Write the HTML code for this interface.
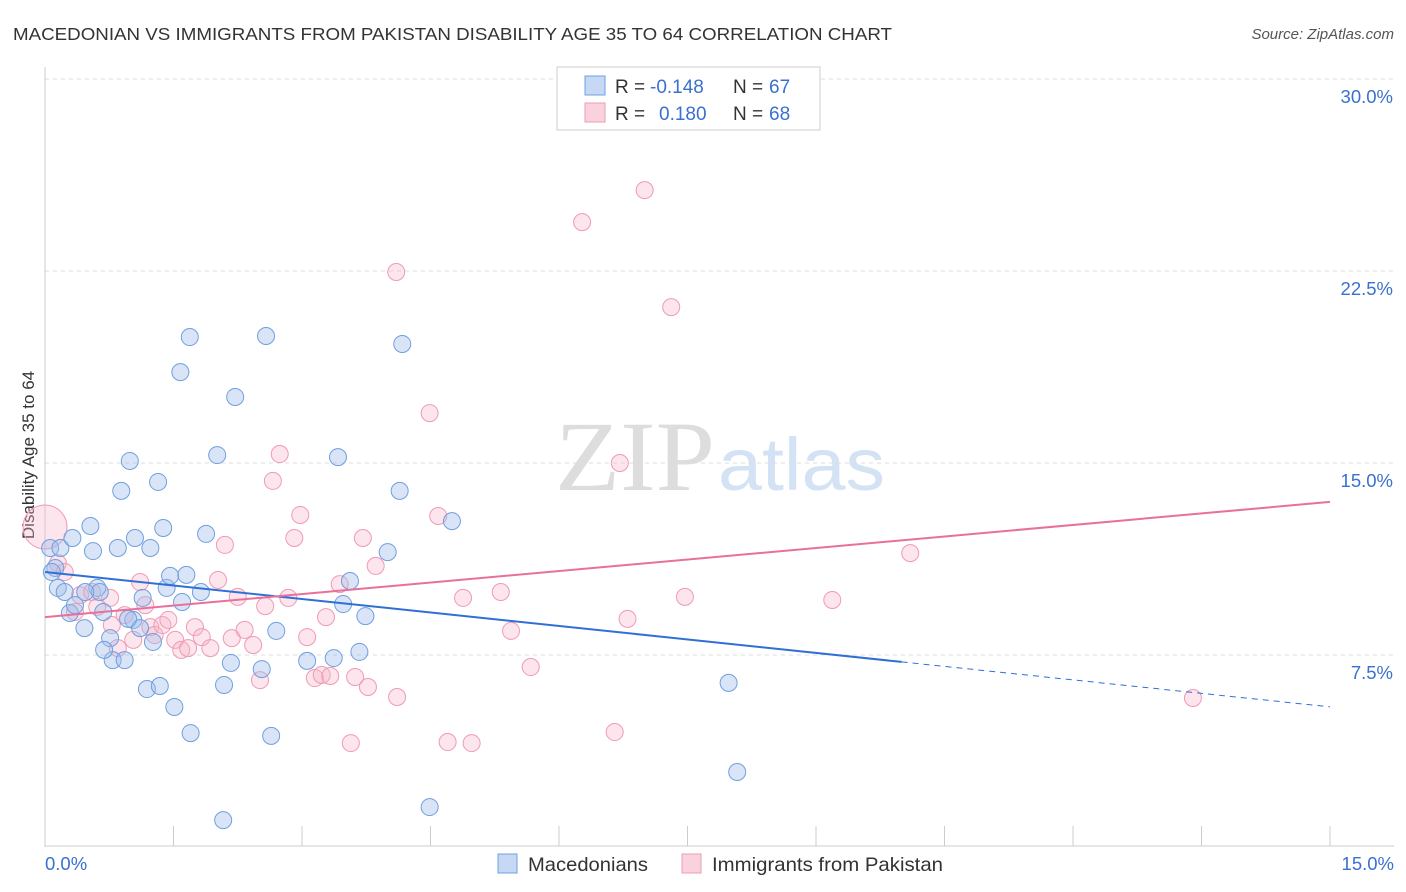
<!DOCTYPE html>
<html><head><meta charset="utf-8">
<style>
body{margin:0;background:#fff;width:1406px;height:892px;overflow:hidden;font-family:"Liberation Sans",sans-serif}
svg{position:absolute;left:0;top:0}
</style></head>
<body>
<svg id="c" width="1406" height="892">
<text x="13" y="40" font-size="17.5" fill="#333" textLength="879" lengthAdjust="spacingAndGlyphs">MACEDONIAN VS IMMIGRANTS FROM PAKISTAN DISABILITY AGE 35 TO 64 CORRELATION CHART</text>
<text x="1394" y="39" font-size="15" fill="#555" font-style="italic" text-anchor="end">Source: ZipAtlas.com</text>
<text x="555" y="490" font-size="100" fill="#ddd" textLength="160" lengthAdjust="spacingAndGlyphs" font-family="Liberation Serif,serif">ZIP</text>
<text x="718" y="490" font-size="74" fill="#d4e2f5" textLength="167" lengthAdjust="spacingAndGlyphs">atlas</text>
<text transform="translate(34,455) rotate(-90)" font-size="17" fill="#333" text-anchor="middle">Disability Age 35 to 64</text>
<g id="grid"></g><g id="marks"></g>
<g>
<rect x="557" y="67" width="263" height="63" fill="#fff" stroke="#ccc"/>
<rect x="585" y="76" width="20" height="19" fill="rgba(160,190,235,0.6)" stroke="#6f9fe0"/>
<rect x="585" y="103" width="20" height="19" fill="rgba(245,180,200,0.6)" stroke="#f09ab4"/>
<text x="615" y="93" font-size="19" fill="#333">R =</text>
<text x="650" y="93" font-size="19" fill="#3a70d0">-0.148</text>
<text x="733" y="93" font-size="19" fill="#333">N =</text>
<text x="769" y="93" font-size="19" fill="#3a70d0">67</text>
<text x="615" y="120" font-size="19" fill="#333">R =</text>
<text x="659" y="120" font-size="19" fill="#3a70d0">0.180</text>
<text x="733" y="120" font-size="19" fill="#333">N =</text>
<text x="769" y="120" font-size="19" fill="#3a70d0">68</text>
</g>
<g>
<rect x="498" y="854" width="19" height="19" fill="rgba(160,190,235,0.6)" stroke="#6f9fe0"/>
<text x="528" y="871" font-size="19.5" fill="#333" textLength="120" lengthAdjust="spacingAndGlyphs">Macedonians</text>
<rect x="682" y="854" width="19" height="19" fill="rgba(245,180,200,0.6)" stroke="#f09ab4"/>
<text x="712" y="871" font-size="19.5" fill="#333" textLength="231" lengthAdjust="spacingAndGlyphs">Immigrants from Pakistan</text>
</g>
</svg>
<script>
const xTicks=[0,1.5,3,4.5,6,7.5,9,10.5,12,13.5,15];
const yTicks=[7.5,15,22.5,30];
const yTickLabels=["7.5%","15.0%","22.5%","30.0%"];
const blueX=[.06,.12,.08,.18,.32,.15,.23,.29,.35,.46,.53,.56,.61,.64,.47,.68,.76,.79,.69,.85,.93,.99,.89,1.05,1.03,1.11,1.14,1.23,1.26,1.19,1.32,1.34,1.38,1.42,1.46,1.51,1.60,1.65,1.58,1.69,1.70,1.82,1.88,2.01,2.09,2.17,2.22,2.08,2.53,2.58,2.64,2.70,3.06,3.37,3.42,3.48,3.56,3.67,3.74,4.00,4.14,4.17,4.49,4.75,7.98,8.08,.97];
const blueY=[11.68,10.90,10.74,11.68,12.07,10.12,9.96,9.14,9.45,8.55,12.54,11.56,10.12,9.96,9.96,9.18,8.16,7.30,7.70,11.68,7.30,15.08,13.91,12.07,8.87,8.55,9.73,11.68,8.01,6.17,14.26,6.29,12.46,10.12,10.59,5.47,9.57,10.63,18.55,19.92,4.45,9.96,12.23,15.31,6.33,7.19,17.58,1.05,6.95,19.96,4.34,8.44,7.27,7.38,15.23,9.49,10.39,7.62,9.02,11.52,13.91,19.65,1.56,12.73,6.41,2.93,8.91];
const pinkX=[0,.15,.23,.35,.41,.55,.61,.76,.78,.85,.93,1.03,1.11,1.17,1.23,1.28,1.37,1.44,1.52,1.59,1.67,1.75,1.83,1.93,2.02,2.10,2.18,2.25,2.33,2.43,2.51,2.57,2.66,2.74,2.84,2.91,2.98,3.06,3.15,3.23,3.28,3.33,3.44,3.57,3.62,3.71,3.77,3.86,4.10,4.11,4.49,4.59,4.70,4.88,4.98,5.32,5.44,5.67,6.27,6.65,6.71,6.80,7.00,7.31,7.47,9.19,10.10,13.40];
const pinkY=[12.5,11.09,10.74,9.18,9.84,9.96,9.38,9.73,8.67,7.77,9.06,8.09,10.35,9.45,8.59,8.28,8.67,8.87,8.09,7.70,7.77,8.59,8.20,7.77,10.43,11.80,8.16,9.77,8.48,7.89,6.52,9.41,14.30,15.35,9.73,12.07,12.97,8.20,6.60,6.72,8.98,6.68,10.27,4.06,6.64,12.07,6.25,10.98,22.46,5.86,16.95,12.93,4.10,9.73,4.06,9.96,8.44,7.03,24.41,4.49,15.00,8.91,25.66,21.09,9.77,9.65,11.48,5.82];
const blueLine=[10.74,-0.351];
const pinkLine=[8.98,0.30];
const X=v=>45+v*1285/15, Y=v=>847-v*25.6;
const NS="http://www.w3.org/2000/svg";
function mk(p,t,a){const e=document.createElementNS(NS,t);for(const k in a)e.setAttribute(k,a[k]);p.appendChild(e);return e;}
const grid=document.getElementById('grid'),marks=document.getElementById('marks');
yTicks.forEach((t,i)=>{
 const g=mk(grid,'line',{x1:45,x2:1394,y1:Y(t),y2:Y(t),stroke:'#ddd','stroke-dasharray':'4,4'});
 
 
 const l=mk(grid,'text',{x:1393,y:Y(t)+24,'font-size':18.5,fill:'#3a70d0','text-anchor':'end'});
 l.textContent=yTickLabels[i];
 
 
});
const ax=mk(grid,'line',{x1:45,x2:45,y1:67,y2:847,stroke:'#ccc'});


const bx=mk(grid,'line',{x1:45,x2:1394,y1:846,y2:846,stroke:'#ccc'});


xTicks.forEach(t=>{const e=mk(grid,'line',{x1:X(t),x2:X(t),y1:826,y2:846,stroke:'#ccc'});
 
 });
const xl0=mk(grid,'text',{x:45,y:870,'font-size':18.5,fill:'#3a70d0'});xl0.textContent='0.0%';


const xl1=mk(grid,'text',{x:1394,y:870,'font-size':18.5,fill:'#3a70d0','text-anchor':'end'});xl1.textContent='15.0%';


pinkX.forEach((x,i)=>{const c=mk(marks,'circle',{cx:X(x),cy:Y(pinkY[i]),r:i===0?22:8.5,fill:'rgba(245,180,200,0.35)',stroke:'#f09ab4','stroke-width':1});
 
 });
blueX.forEach((x,i)=>{const c=mk(marks,'circle',{cx:X(x),cy:Y(blueY[i]),r:8.5,fill:'rgba(160,190,235,0.4)',stroke:'#6f9fe0','stroke-width':1});
 
 });
const f=(L,x)=>L[0]+L[1]*x;
const b1=mk(marks,'line',{x1:X(0),y1:Y(f(blueLine,0)),x2:X(10),y2:Y(f(blueLine,10)),stroke:'#2f6fd6','stroke-width':2});


const b2=mk(marks,'line',{x1:X(10),y1:Y(f(blueLine,10)),x2:X(15),y2:Y(f(blueLine,15)),stroke:'#2f6fd6','stroke-width':1,'stroke-dasharray':'6,5'});


const p1=mk(marks,'line',{x1:X(0),y1:Y(f(pinkLine,0)),x2:X(15),y2:Y(f(pinkLine,15)),stroke:'#e8709a','stroke-width':2});


</script>
</body></html>
